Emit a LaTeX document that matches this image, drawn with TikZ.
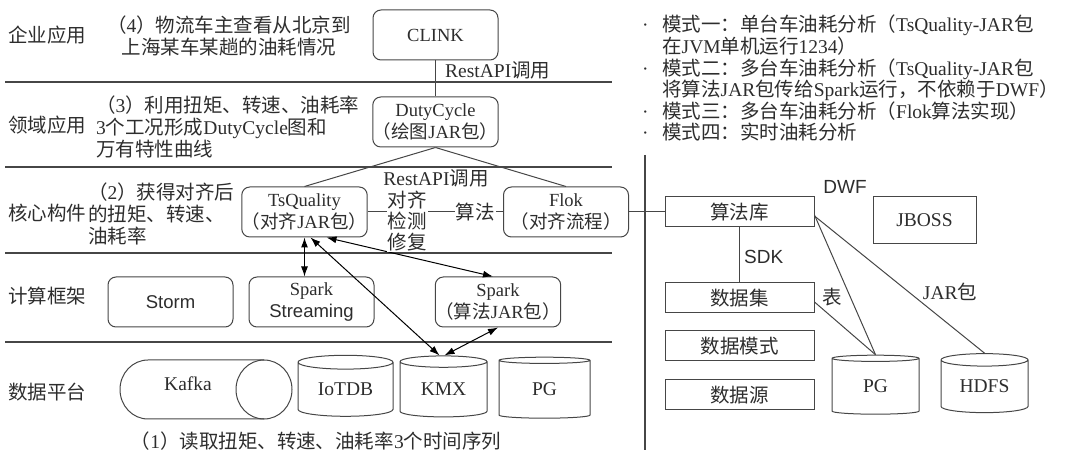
\documentclass[tikz,border=0pt]{standalone}
\usepackage{fontspec}
\setmainfont{Liberation Serif}
\setsansfont{Liberation Sans}
\newfontfamily\zhfont{Noto Sans CJK SC}
\usetikzlibrary{arrows.meta,positioning,shapes.geometric}

% Chinese characters switch to the CJK font
\XeTeXinterchartokenstate=1
\newcommand\setzhrange[2]{%
  \count255=#1\relax
  \loop\XeTeXcharclass\count255=3
  \ifnum\count255<#2\relax \advance\count255 by 1 \repeat}
\setzhrange{"3000}{"303F}
\setzhrange{"4E00}{"9FFF}
\setzhrange{"FF00}{"FFEF}
\XeTeXinterchartoks 0 3 = {\zhfont}
\XeTeXinterchartoks 4095 3 = {\zhfont}
\XeTeXinterchartoks 3 0 = {\rmfamily}
\XeTeXinterchartoks 3 4095 = {\rmfamily}

\definecolor{ink}{RGB}{45,45,45}
\definecolor{edge}{RGB}{70,70,70}

\begin{document}
\begin{tikzpicture}[
    x=1pt, y=-1pt,
    font=\fontsize{19.5}{21.6}\selectfont,
    lbl/.style={anchor=west, inner sep=0pt, text=ink},
    rbox/.style={rectangle, rounded corners=8pt, draw=edge, line width=1pt, fill=white, align=center, minimum width=125pt, minimum height=50pt, inner sep=0pt, text=ink, font=\fontsize{18.5}{22}\selectfont},
    sbox/.style={rectangle, draw=edge, line width=1pt, minimum width=149pt, minimum height=30pt, inner sep=0pt, text=ink},
    db/.style={cylinder, shape border rotate=90, aspect=0.25, draw=edge, line width=1pt, minimum width=87pt, minimum height=59pt, inner sep=0pt, text=ink},
    rule/.style={draw=edge, line width=1.1pt},
    link/.style={draw=edge, line width=1pt},
    biarrow/.style={{Latex[length=10pt,width=7pt]}-{Latex[length=10pt,width=7pt]}, line width=1pt, draw=black}
]
\useasboundingbox (0,0) rectangle (1080,454);

% layers
\foreach \y in {82,167,253,342}
  \draw[rule] (5,\y) -- (612,\y);
\draw[rule] (645,155) -- (645,450);

\node[lbl] (ent) at (8,35) {企业应用};
\node[lbl] (dom) at (8,125) {领域应用};
\node[lbl] (core) at (8,213) {核心构件};
\node[lbl] (comp) at (8,296) {计算框架};
\node[lbl] (plat) at (8,392) {数据平台};

\node[lbl, anchor=center, align=center] (step4) at (229,36) {（4）物流车主查看从北京到\\上海某车某趟的油耗情况};
\node[lbl, align=left] (step3) at (96,127) {（3）利用扭矩、转速、油耗率\\3个工况形成DutyCycle图和\\万有特性曲线};
\node[lbl, align=left] (step2) at (88,214) {（2）获得对齐后\\的扭矩、转速、\\油耗率};
\node[lbl, anchor=center] (step1) at (316,441) {（1）读取扭矩、转速、油耗率3个时间序列};

% boxes
\node[rbox] (clink) at (435.5,35) {CLINK};
\node[rbox] (duty) at (435.5,122) {DutyCycle\\（绘图JAR包）};
\node[rbox] (tsq) at (304.5,212) {TsQuality\\（对齐JAR包）};
\node[rbox] (flok) at (566,212) {Flok\\（对齐流程）};
\node[rbox] (storm) at (170.5,302) {\sffamily Storm};
\node[rbox, right=15pt of storm] (sstream) {Spark\\{\sffamily Streaming}};
\node[rbox] (salg) at (498,302) {Spark\\（算法JAR包）};

% storage
\draw[link] (264,360) -- (148,360)
  arc[start angle=270, end angle=90, x radius=28, y radius=29.5] -- (264,419);
\draw[link] (264,389.5) ellipse[x radius=28, y radius=29.5];
\node[lbl, anchor=center] (kafka) at (188,384) {Kafka};
\node[db, minimum width=95pt, minimum height=61pt] (iotdb) at (345.5,389.5) {IoTDB};
\node[db, minimum height=61pt] (kmx) at (443.5,389.5) {KMX};
\node[db, minimum width=91pt, minimum height=61pt] (pgl) at (544.5,389.5) {PG};

% right side
\node[sbox] (alglib) at (739.5,212) {算法库};
\node[sbox, below=55pt of alglib] (dataset) {数据集};
\node[sbox, below=17pt of dataset] (schema) {数据模式};
\node[sbox, below=18pt of schema] (source) {数据源};
\node[sbox, minimum width=103pt, minimum height=47pt] (jboss) at (924.5,220.5) {JBOSS};
\node[db] (pgr) at (875.5,386.5) {PG};
\node[db] (hdfs) at (984.5,386.5) {HDFS};

% connectors
\draw[link] (clink) -- (duty);
\draw[link] (duty.south) -- (tsq.north);
\draw[link] (duty.south) -- (flok.north);
\draw[link] (tsq) -- (flok);
\draw[link] (flok) -- (alglib);
\draw[link] (alglib) -- (dataset);
\draw[link] ([yshift=-3pt]alglib.east) -- (pgr.north);
\draw[link] ([yshift=-4pt]alglib.east) -- (hdfs.north);
\draw[link] ([yshift=-4pt]dataset.east) -- (pgr.north);

\draw[biarrow] (tsq.south) -- (tsq.south |- sstream.north);
\draw[biarrow] ([xshift=6pt]tsq.south) -- ([xshift=-4pt]kmx.north);
\draw[biarrow] ([xshift=22pt]tsq.south) -- ([xshift=-5pt]salg.north);
\draw[biarrow] ([xshift=1pt]kmx.north) -- (salg.south);

% labels
\node[lbl] (rest1) at (445,70) {RestAPI调用};
\node[lbl, anchor=center] (rest2) at (436,178) {RestAPI调用};
\node[lbl, anchor=center, align=center, fill=white, inner sep=1pt, font=\fontsize{19.5}{21}\selectfont] (fix) at (407,221) {对齐\\检测\\修复};
\node[lbl, anchor=center, fill=white, inner sep=1pt] (algo) at (475,212) {算法};
\node[lbl, font=\fontsize{19}{21}\sffamily] (sdk) at (744,257) {SDK};
\node[lbl, anchor=center, font=\fontsize{19}{21}\sffamily] (dwf) at (845,187) {DWF};
\node[lbl, anchor=center] (tab) at (832,297) {表};
\node[lbl, anchor=center] (jar) at (950,292) {JAR包};

\node[lbl, anchor=north west, align=left] (modes) at (642,15) {%
\makebox[20pt][l]{·}模式一：单台车油耗分析（TsQuality-JAR包\\
\makebox[20pt][l]{}在JVM单机运行1234）\\
\makebox[20pt][l]{·}模式二：多台车油耗分析（TsQuality-JAR包\\
\makebox[20pt][l]{}将算法JAR包传给Spark运行，不依赖于DWF）\\
\makebox[20pt][l]{·}模式三：多台车油耗分析（Flok算法实现）\\
\makebox[20pt][l]{·}模式四：实时油耗分析};
\end{tikzpicture}
\end{document}
